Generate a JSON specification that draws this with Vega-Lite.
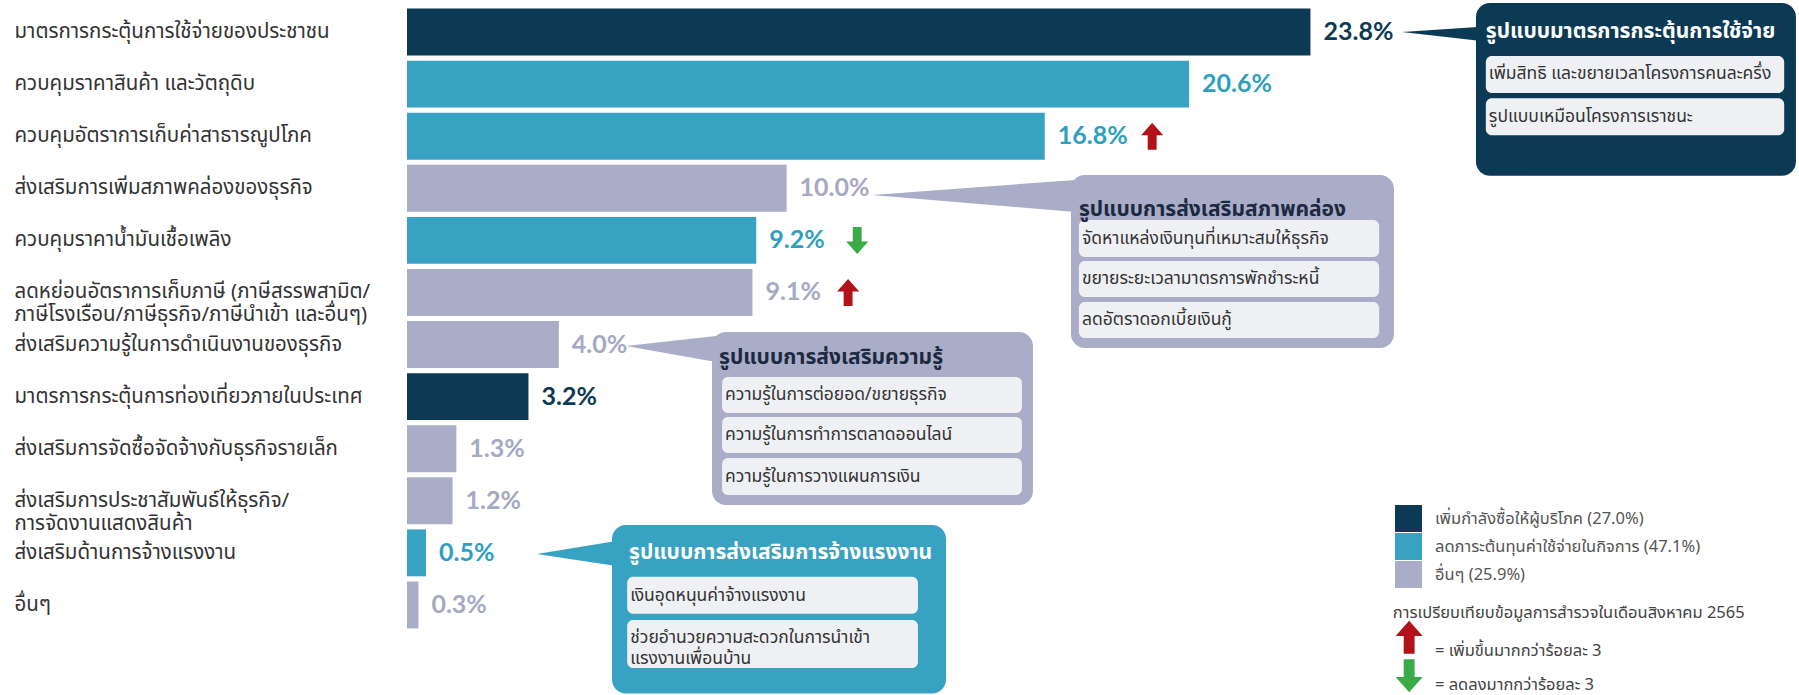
{
  "$schema": "https://vega.github.io/schema/vega-lite/v6.json",
  "width": 1392,
  "height": 625,
  "autosize": {"type": "none"},
  "padding": {"left": 407, "top": 6, "right": 0, "bottom": 64},
  "background": "#ffffff",
  "config": {
    "view": {"stroke": null},
    "font": "Noto Sans Thai, Noto Sans, sans-serif",
    "legend": {
      "orient": "none", "legendX": 988, "legendY": 499,
      "symbolType": "square", "symbolSize": 729, "symbolStrokeWidth": 0,
      "labelFontSize": 16.5, "labelColor": "#555555", "labelFont": "Noto Sans Thai, Noto Sans, sans-serif",
      "rowPadding": 1, "labelOffset": 13, "title": null, "labelLimit": 400
    }
  },
  "datasets": {
    "bars": [
      {"label": "มาตรการกระตุ้นการใช้จ่ายของประชาชน", "value": 23.8, "text": "23.8%", "group": "เพิ่มกำลังซื้อให้ผู้บริโภค (27.0%)"},
      {"label": "ควบคุมราคาสินค้า และวัตถุดิบ", "value": 20.6, "text": "20.6%", "group": "ลดภาระต้นทุนค่าใช้จ่ายในกิจการ (47.1%)"},
      {"label": "ควบคุมอัตราการเก็บค่าสาธารณูปโภค", "value": 16.8, "text": "16.8%", "group": "ลดภาระต้นทุนค่าใช้จ่ายในกิจการ (47.1%)"},
      {"label": "ส่งเสริมการเพิ่มสภาพคล่องของธุรกิจ", "value": 10.0, "text": "10.0%", "group": "อื่นๆ (25.9%)"},
      {"label": "ควบคุมราคาน้ำมันเชื้อเพลิง", "value": 9.2, "text": "9.2%", "group": "ลดภาระต้นทุนค่าใช้จ่ายในกิจการ (47.1%)"},
      {"label": "ลดหย่อนอัตราการเก็บภาษี  (ภาษีสรรพสามิต/\nภาษีโรงเรือน/ภาษีธุรกิจ/ภาษีนำเข้า และอื่นๆ)", "value": 9.1, "text": "9.1%", "group": "อื่นๆ (25.9%)"},
      {"label": "ส่งเสริมความรู้ในการดำเนินงานของธุรกิจ", "value": 4.0, "text": "4.0%", "group": "อื่นๆ (25.9%)"},
      {"label": "มาตรการกระตุ้นการท่องเที่ยวภายในประเทศ", "value": 3.2, "text": "3.2%", "group": "เพิ่มกำลังซื้อให้ผู้บริโภค (27.0%)"},
      {"label": "ส่งเสริมการจัดซื้อจัดจ้างกับธุรกิจรายเล็ก", "value": 1.3, "text": "1.3%", "group": "อื่นๆ (25.9%)"},
      {"label": "ส่งเสริมการประชาสัมพันธ์ให้ธุรกิจ/\nการจัดงานแสดงสินค้า", "value": 1.2, "text": "1.2%", "group": "อื่นๆ (25.9%)"},
      {"label": "ส่งเสริมด้านการจ้างแรงงาน", "value": 0.5, "text": "0.5%", "group": "ลดภาระต้นทุนค่าใช้จ่ายในกิจการ (47.1%)"},
      {"label": "อื่นๆ", "value": 0.3, "text": "0.3%", "group": "อื่นๆ (25.9%)"}
    ],
    "pointers": [
      {"cid": "c1", "group": "เพิ่มกำลังซื้อให้ผู้บริโภค (27.0%)", "x": 26.21, "y": 0.5, "y2": 0.5},
      {"cid": "c1", "group": "เพิ่มกำลังซื้อให้ผู้บริโภค (27.0%)", "x": 28.3, "y": 0.4, "y2": 0.67},
      {"cid": "c2", "group": "อื่นๆ (25.9%)", "x": 12.25, "y": 3.63, "y2": 3.63},
      {"cid": "c2", "group": "อื่นๆ (25.9%)", "x": 17.6, "y": 3.34, "y2": 3.955},
      {"cid": "c3", "group": "อื่นๆ (25.9%)", "x": 5.77, "y": 6.53, "y2": 6.53},
      {"cid": "c3", "group": "อื่นๆ (25.9%)", "x": 8.14, "y": 6.336, "y2": 6.835},
      {"cid": "c4", "group": "ลดภาระต้นทุนค่าใช้จ่ายในกิจการ (47.1%)", "x": 3.42, "y": 10.52, "y2": 10.52},
      {"cid": "c4", "group": "ลดภาระต้นทุนค่าใช้จ่ายในกิจการ (47.1%)", "x": 5.51, "y": 10.27, "y2": 10.75}
    ],
    "boxes": [
      {"cid": "c1", "group": "เพิ่มกำลังซื้อให้ผู้บริโภค (27.0%)", "x": 28.16, "x2": 36.59, "y": -0.06, "y2": 3.26},
      {"cid": "c2", "group": "อื่นๆ (25.9%)", "x": 17.49, "x2": 26.0, "y": 3.245, "y2": 6.567},
      {"cid": "c3", "group": "อื่นๆ (25.9%)", "x": 8.035, "x2": 16.49, "y": 6.259, "y2": 9.581},
      {"cid": "c4", "group": "ลดภาระต้นทุนค่าใช้จ่ายในกิจการ (47.1%)", "x": 5.4, "x2": 14.2, "y": 9.965, "y2": 13.2}
    ],
    "titles": [
      {"cid": "c1", "tone": "light", "x": 28.42, "y": 0.49, "text": "รูปแบบมาตรการกระตุ้นการใช้จ่าย"},
      {"cid": "c2", "tone": "dark", "x": 17.7, "y": 3.917, "text": "รูปแบบการส่งเสริมสภาพคล่อง"},
      {"cid": "c3", "tone": "dark", "x": 8.22, "y": 6.759, "text": "รูปแบบการส่งเสริมความรู้"},
      {"cid": "c4", "tone": "light", "x": 5.85, "y": 10.5, "text": "รูปแบบการส่งเสริมการจ้างแรงงาน"}
    ],
    "items": [
      {"x": 28.42, "x2": 36.28, "y": 0.96, "y2": 1.67, "tx": 28.5, "ty": 1.315, "text": "เพิ่มสิทธิ และขยายเวลาโครงการคนละครึ่ง"},
      {"x": 28.42, "x2": 36.28, "y": 1.77, "y2": 2.48, "tx": 28.5, "ty": 2.125, "text": "รูปแบบเหมือนโครงการเราชนะ"},
      {"x": 17.7, "x2": 25.61, "y": 4.109, "y2": 4.819, "tx": 17.78, "ty": 4.464, "text": "จัดหาแหล่งเงินทุนที่เหมาะสมให้ธุรกิจ"},
      {"x": 17.7, "x2": 25.61, "y": 4.896, "y2": 5.587, "tx": 17.78, "ty": 5.242, "text": "ขยายระยะเวลามาตรการพักชำระหนี้"},
      {"x": 17.7, "x2": 25.61, "y": 5.683, "y2": 6.375, "tx": 17.78, "ty": 6.029, "text": "ลดอัตราดอกเบี้ยเงินกู้"},
      {"x": 8.3, "x2": 16.2, "y": 7.123, "y2": 7.815, "tx": 8.38, "ty": 7.469, "text": "ความรู้ในการต่อยอด/ขยายธุรกิจ"},
      {"x": 8.3, "x2": 16.2, "y": 7.891, "y2": 8.583, "tx": 8.38, "ty": 8.237, "text": "ความรู้ในการทำการตลาดออนไลน์"},
      {"x": 8.3, "x2": 16.2, "y": 8.679, "y2": 9.389, "tx": 8.38, "ty": 9.034, "text": "ความรู้ในการวางแผนการเงิน"},
      {"x": 5.8, "x2": 13.46, "y": 10.96, "y2": 11.67, "tx": 5.88, "ty": 11.32, "text": "เงินอุดหนุนค่าจ้างแรงงาน"},
      {"x": 5.8, "x2": 13.46, "y": 11.79, "y2": 12.71, "tx": 5.88, "ty": 12.13, "text": "ช่วยอำนวยความสะดวกในการนำเข้า\nแรงงานเพื่อนบ้าน"}
    ],
    "arrows": [
      {"dir": "up", "kind": "bar", "x": 19.63, "y": 2.5},
      {"dir": "down", "kind": "bar", "x": 11.86, "y": 4.5},
      {"dir": "up", "kind": "bar", "x": 11.62, "y": 5.5},
      {"dir": "up", "kind": "legend", "x": 26.4, "y": 12.12},
      {"dir": "down", "kind": "legend", "x": 26.4, "y": 12.86}
    ],
    "notes": [
      {"x": 25.97, "y": 11.65, "text": "การเปรียบเทียบข้อมูลการสำรวจในเดือนสิงหาคม 2565"},
      {"x": 27.08, "y": 12.38, "text": "= เพิ่มขึ้นมากกว่าร้อยละ 3"},
      {"x": 27.08, "y": 13.04, "text": "= ลดลงมากกว่าร้อยละ 3"}
    ]
  },
  "resolve": {"scale": {"y": "independent"}},
  "layer": [
    {
      "data": {"name": "bars"},
      "encoding": {
        "y": {
          "field": "label", "type": "nominal", "sort": null,
          "scale": {"paddingInner": 0.1, "paddingOuter": 0.05},
          "axis": {
            "title": null, "domain": false, "ticks": false, "tickSize": 0,
            "labelAlign": "left", "labelPadding": 393, "labelFontSize": 20.5,
            "labelColor": "#333333", "labelLimit": 420,
            "labelExpr": "split(datum.value, '\\n')", "labelLineHeight": 23,
            "labelFont": "Noto Sans Thai, Noto Sans, sans-serif"
          }
        },
        "x": {"field": "value", "type": "quantitative", "scale": {"domain": [0, 36.67], "nice": false, "zero": false}, "axis": null}
      },
      "layer": [
        {
          "mark": {"type": "bar"},
          "encoding": {
            "color": {
              "field": "group", "type": "nominal",
              "scale": {
                "domain": ["เพิ่มกำลังซื้อให้ผู้บริโภค (27.0%)", "ลดภาระต้นทุนค่าใช้จ่ายในกิจการ (47.1%)", "อื่นๆ (25.9%)"],
                "range": ["#0c3a55", "#37a2c2", "#a9adc8"]
              },
              "legend": {}
            }
          }
        },
        {
          "mark": {"type": "text", "align": "left", "baseline": "middle", "dx": 13, "fontSize": 25, "fontWeight": "bold", "font": "Lato"},
          "encoding": {
            "text": {"field": "text"},
            "fill": {
              "field": "group", "type": "nominal",
              "scale": {
                "domain": ["เพิ่มกำลังซื้อให้ผู้บริโภค (27.0%)", "ลดภาระต้นทุนค่าใช้จ่ายในกิจการ (47.1%)", "อื่นๆ (25.9%)"],
                "range": ["#0c3a55", "#2f9fc0", "#a6a9c2"]
              },
              "legend": null
            }
          }
        }
      ]
    },
    {
      "layer": [
        {
          "data": {"name": "pointers"},
          "mark": {"type": "area", "interpolate": "linear"},
          "encoding": {
            "x": {"field": "x", "type": "quantitative", "scale": {"domain": [0, 36.67], "nice": false, "zero": false}, "axis": null},
            "y": {"field": "y", "type": "quantitative", "scale": {"domain": [0, 12], "reverse": true, "nice": false, "zero": false}, "axis": null},
            "y2": {"field": "y2"},
            "detail": {"field": "cid"},
            "color": {"field": "group", "type": "nominal", "legend": null}
          }
        },
        {
          "data": {"name": "boxes"},
          "mark": {"type": "rect", "cornerRadius": 14},
          "encoding": {
            "x": {"field": "x", "type": "quantitative", "scale": {"domain": [0, 36.67], "nice": false, "zero": false}, "axis": null},
            "x2": {"field": "x2"},
            "y": {"field": "y", "type": "quantitative", "scale": {"domain": [0, 12], "reverse": true, "nice": false, "zero": false}, "axis": null},
            "y2": {"field": "y2"},
            "color": {"field": "group", "type": "nominal", "legend": null}
          }
        },
        {
          "data": {"name": "items"},
          "mark": {"type": "rect", "cornerRadius": 6, "fill": "#eff0f4"},
          "encoding": {
            "x": {"field": "x", "type": "quantitative", "scale": {"domain": [0, 36.67], "nice": false, "zero": false}, "axis": null},
            "x2": {"field": "x2"},
            "y": {"field": "y", "type": "quantitative", "scale": {"domain": [0, 12], "reverse": true, "nice": false, "zero": false}, "axis": null},
            "y2": {"field": "y2"}
          }
        },
        {
          "data": {"name": "items"},
          "mark": {"type": "text", "align": "left", "baseline": "middle", "fontSize": 17.5, "fill": "#333333", "lineBreak": "\n", "lineHeight": 21},
          "encoding": {
            "x": {"field": "tx", "type": "quantitative", "scale": {"domain": [0, 36.67], "nice": false, "zero": false}, "axis": null},
            "y": {"field": "ty", "type": "quantitative", "scale": {"domain": [0, 12], "reverse": true, "nice": false, "zero": false}, "axis": null},
            "text": {"field": "text"}
          }
        },
        {
          "data": {"name": "titles"},
          "transform": [{"filter": "datum.tone === 'light'"}],
          "mark": {"type": "text", "align": "left", "baseline": "middle", "fontSize": 21, "fontWeight": "bold", "fill": "#ffffff"},
          "encoding": {
            "x": {"field": "x", "type": "quantitative", "scale": {"domain": [0, 36.67], "nice": false, "zero": false}, "axis": null},
            "y": {"field": "y", "type": "quantitative", "scale": {"domain": [0, 12], "reverse": true, "nice": false, "zero": false}, "axis": null},
            "text": {"field": "text"}
          }
        },
        {
          "data": {"name": "titles"},
          "transform": [{"filter": "datum.tone === 'dark'"}],
          "mark": {"type": "text", "align": "left", "baseline": "middle", "fontSize": 21, "fontWeight": "bold", "fill": "#1c2940"},
          "encoding": {
            "x": {"field": "x", "type": "quantitative", "scale": {"domain": [0, 36.67], "nice": false, "zero": false}, "axis": null},
            "y": {"field": "y", "type": "quantitative", "scale": {"domain": [0, 12], "reverse": true, "nice": false, "zero": false}, "axis": null},
            "text": {"field": "text"}
          }
        },
        {
          "data": {"name": "arrows"},
          "transform": [{"filter": "datum.dir === 'up'"}],
          "mark": {"type": "point", "filled": true, "opacity": 1, "fill": "#b3121a", "strokeWidth": 0,
                   "shape": "M0,-1L0.82,-0.08L0.33,-0.08L0.33,1L-0.33,1L-0.33,-0.08L-0.82,-0.08Z"},
          "encoding": {
            "x": {"field": "x", "type": "quantitative", "scale": {"domain": [0, 36.67], "nice": false, "zero": false}, "axis": null},
            "y": {"field": "y", "type": "quantitative", "scale": {"domain": [0, 12], "reverse": true, "nice": false, "zero": false}, "axis": null},
            "size": {"field": "kind", "type": "nominal", "scale": {"domain": ["bar", "legend"], "range": [729, 1089]}, "legend": null}
          }
        },
        {
          "data": {"name": "arrows"},
          "transform": [{"filter": "datum.dir === 'down'"}],
          "mark": {"type": "point", "filled": true, "opacity": 1, "fill": "#3bab47", "strokeWidth": 0,
                   "shape": "M0,1L0.82,0.08L0.33,0.08L0.33,-1L-0.33,-1L-0.33,0.08L-0.82,0.08Z"},
          "encoding": {
            "x": {"field": "x", "type": "quantitative", "scale": {"domain": [0, 36.67], "nice": false, "zero": false}, "axis": null},
            "y": {"field": "y", "type": "quantitative", "scale": {"domain": [0, 12], "reverse": true, "nice": false, "zero": false}, "axis": null},
            "size": {"field": "kind", "type": "nominal", "scale": {"domain": ["bar", "legend"], "range": [729, 1089]}, "legend": null}
          }
        },
        {
          "data": {"name": "notes"},
          "mark": {"type": "text", "align": "left", "baseline": "middle", "fontSize": 16.5, "fill": "#444444"},
          "encoding": {
            "x": {"field": "x", "type": "quantitative", "scale": {"domain": [0, 36.67], "nice": false, "zero": false}, "axis": null},
            "y": {"field": "y", "type": "quantitative", "scale": {"domain": [0, 12], "reverse": true, "nice": false, "zero": false}, "axis": null},
            "text": {"field": "text"}
          }
        }
      ]
    }
  ]
}
